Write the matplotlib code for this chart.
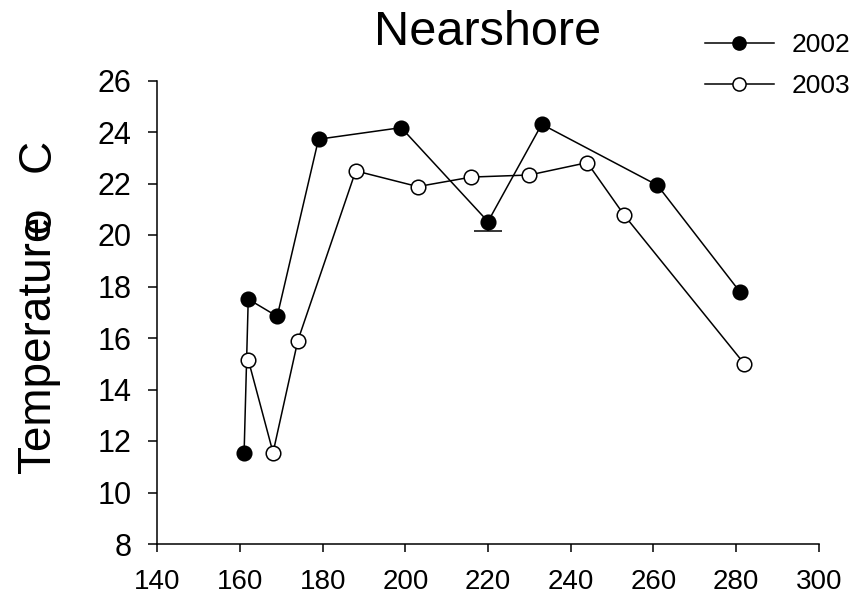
import matplotlib
matplotlib.use("Agg")
import matplotlib.pyplot as plt

plt.rcParams['font.family'] = ['Liberation Sans', 'DejaVu Sans']

# Data
day_2002 = [161, 162, 169, 179, 199, 220, 233, 261, 281]
temp_2002 = [11.55, 17.51, 16.84, 23.72, 24.17, 20.52, 24.30, 21.93, 17.78]
err_low_2002 = [0, 0, 0, 0, 0, 0.38, 0, 0, 0]

day_2003 = [162, 168, 174, 188, 203, 216, 230, 244, 253, 282]
temp_2003 = [15.16, 11.55, 15.90, 22.49, 21.88, 22.25, 22.33, 22.81, 20.76, 15.00]

x_ticks = [140, 160, 180, 200, 220, 240, 260, 280, 300]
y_ticks = [8, 10, 12, 14, 16, 18, 20, 22, 24, 26]

W, H = 858, 602
fig = plt.figure(figsize=(W / 100, H / 100), dpi=100)
ax = fig.add_axes([157.3 / W, 1 - 544 / H, (818.7 - 157.3) / W, (544 - 80.5) / H])

# error bars only where an error exists (lower side only)
eb_x = [d for d, e in zip(day_2002, err_low_2002) if e > 0]
eb_y = [t for t, e in zip(temp_2002, err_low_2002) if e > 0]
eb_e = [e for e in err_low_2002 if e > 0]
cont = ax.errorbar(eb_x, eb_y, yerr=[eb_e, [0] * len(eb_e)], fmt='none', ecolor='black',
                   elinewidth=1.1, capsize=10, capthick=1.1, zorder=1)
for cap in cont[1]:
    yd = list(cap.get_ydata())
    if yd == list(eb_y):
        cap.set_visible(False)

ax.plot(day_2002, temp_2002, color='black', lw=1.1, marker='o', markersize=10.5,
        markerfacecolor='black', markeredgecolor='black', markeredgewidth=1.1,
        label='2002', zorder=2)
ax.plot(day_2003, temp_2003, color='black', lw=1.1, marker='o', markersize=10.5,
        markerfacecolor='white', markeredgecolor='black', markeredgewidth=1.1,
        label='2003', zorder=3)

ax.set_xlim(140, 300)
ax.set_ylim(8, 26)
ax.set_xticks(x_ticks)
ax.set_yticks(y_ticks)
ax.spines['top'].set_visible(False)
ax.spines['right'].set_visible(False)
for s in ('left', 'bottom'):
    ax.spines[s].set_linewidth(1.1)
ax.tick_params(axis='x', direction='out', length=6, width=1.1, labelsize=20, pad=12)
ax.tick_params(axis='y', direction='out', length=6.5, width=1.1, labelsize=22, pad=12)

ax.text(0.5, 1.0766, 'Nearshore', transform=ax.transAxes, ha='center',
        va='baseline', fontsize=35)

# y label: "Temperature" with an overlapping degree "o" and "C"
fig.text(50 / W, 1 - 473 / H, 'Temperature', rotation=90, rotation_mode='anchor',
         ha='left', va='baseline', fontsize=33)
fig.text(50 / W, 1 - 233 / H, 'o', rotation=90, rotation_mode='anchor',
         ha='left', va='baseline', fontsize=33)
fig.text(50 / W, 1 - 172 / H, 'C', rotation=90, rotation_mode='anchor',
         ha='left', va='baseline', fontsize=33)

leg = ax.legend(loc='upper left', bbox_to_anchor=(705 / W, 1 - 33 / H),
                bbox_transform=fig.transFigure, frameon=False, fontsize=19,
                handlelength=2.6, handletextpad=0.7, labelspacing=0.65,
                borderpad=0, borderaxespad=0, markerscale=0.9)

fig.savefig('out.png', dpi=100)
